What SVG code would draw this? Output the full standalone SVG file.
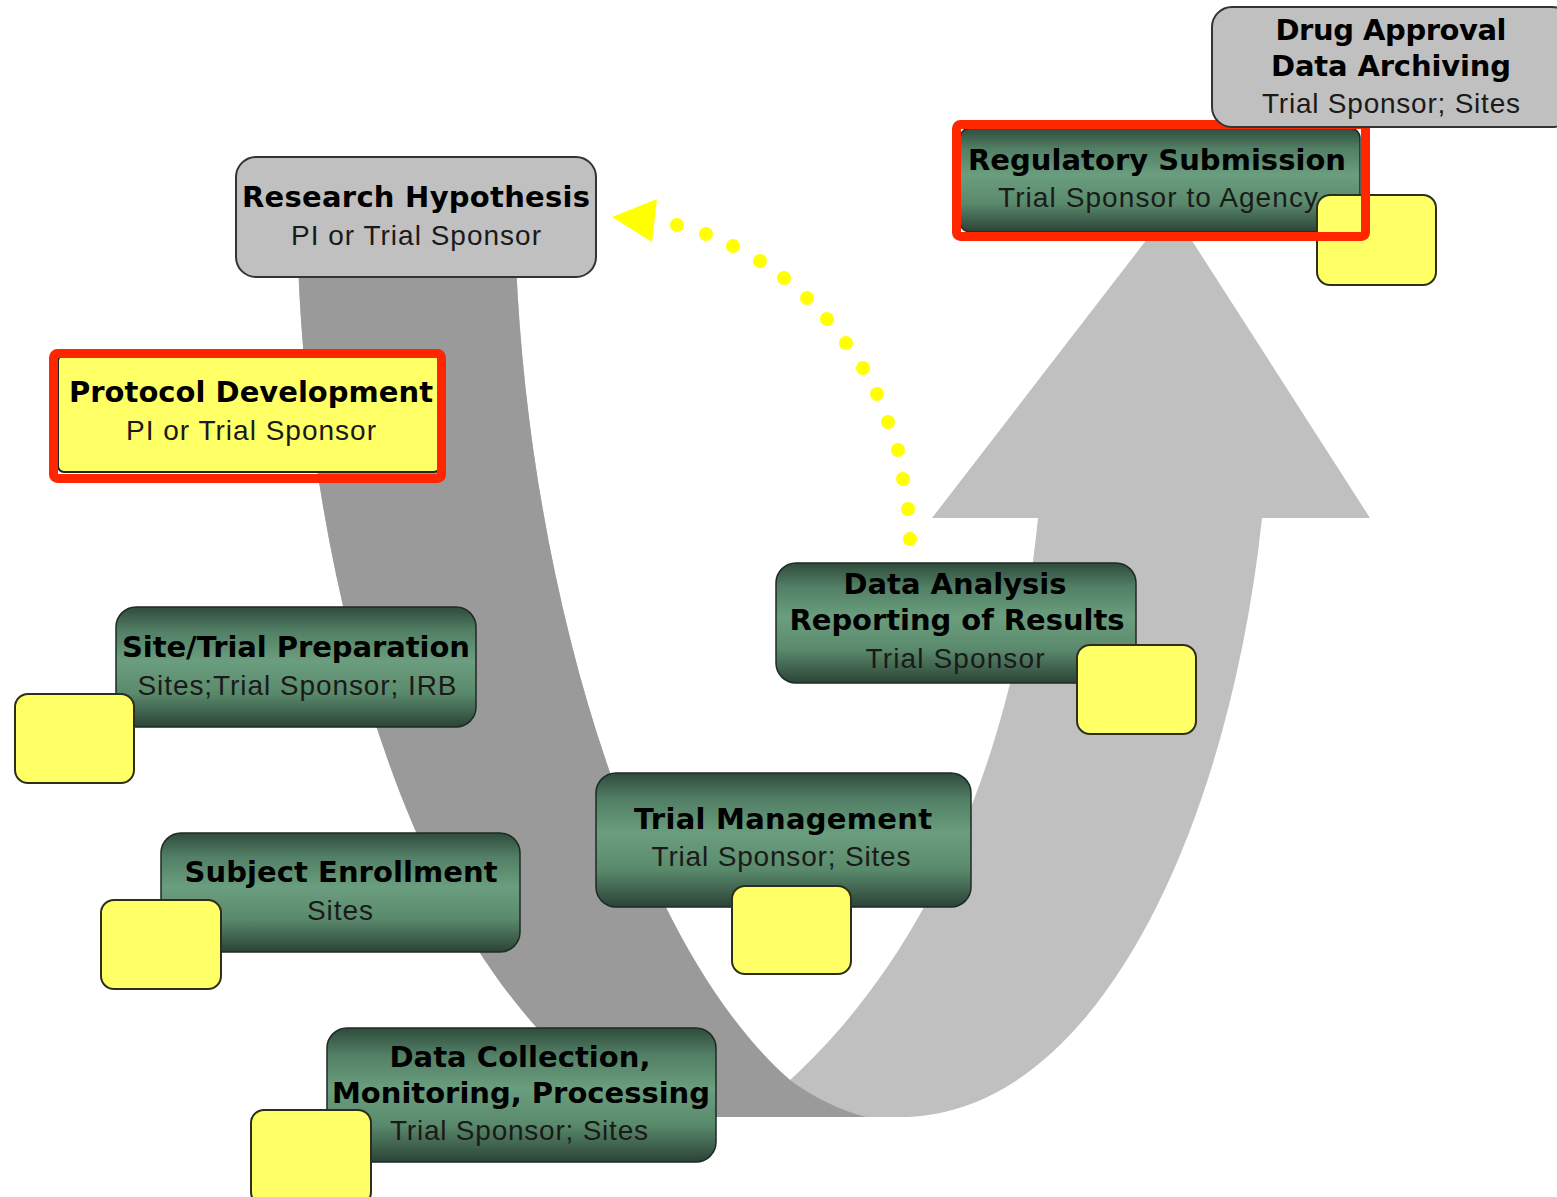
<svg xmlns="http://www.w3.org/2000/svg" width="1557" height="1197" viewBox="0 0 1557 1197">
<defs>
  <linearGradient id="greenFill" x1="0" y1="0" x2="0" y2="1">
    <stop offset="0" stop-color="#2f4b3c"/>
    <stop offset="0.2" stop-color="#527f65"/>
    <stop offset="0.45" stop-color="#6a9e7e"/>
    <stop offset="0.72" stop-color="#5a8a6c"/>
    <stop offset="1" stop-color="#2b4336"/>
  </linearGradient>
</defs>
<style>
  .title{font-family:"DejaVu Sans",Verdana,sans-serif;font-weight:bold;font-size:29px;fill:#000;text-anchor:middle}
  .sub{font-family:"Liberation Sans",Arial,sans-serif;font-size:28px;fill:#1a1a1a;text-anchor:middle}
  .green{fill:url(#greenFill);stroke:#1e2a22;stroke-width:1.5}
  .gray{fill:#c0c0c0;stroke:#333;stroke-width:2}
  .note{fill:#ffff66;stroke:#2e2e1a;stroke-width:2}
  .hl{fill:none;stroke:#ff2600;stroke-width:9}
  .dot{fill:#ffff00}
</style>
<rect width="1557" height="1197" fill="#fff"/>

<!-- U-turn process arrow: light band over the whole shape, darker descending arm -->
<g id="process-arrow">
  <path fill="#c0c0c0" d="M298,262 L516,262 C530,600 640,950 790,1080 C900,980 1010,800 1038,518 L932,518 L1171,208 L1370,518 L1262,518 C1230,820 1100,1117 900,1117 L650,1117 C420,1000 310,600 298,262 Z"/>
  <path fill="#9a9a9a" d="M298,262 L516,262 C530,600 640,950 790,1080 Q825,1106 866,1117 L650,1117 C420,1000 310,600 298,262 Z"/>
</g>

<!-- dotted feedback arrow back to the hypothesis -->
<g id="connectors">
  <g class="dot">
    <circle cx="677" cy="225" r="7"/>
    <circle cx="706" cy="234" r="7"/>
    <circle cx="733" cy="246" r="7"/>
    <circle cx="760" cy="261" r="7"/>
    <circle cx="784" cy="278" r="7"/>
    <circle cx="807" cy="298" r="7"/>
    <circle cx="827" cy="319" r="7"/>
    <circle cx="846" cy="343" r="7"/>
    <circle cx="863" cy="368" r="7"/>
    <circle cx="877" cy="394" r="7"/>
    <circle cx="888" cy="422" r="7"/>
    <circle cx="898" cy="450" r="7"/>
    <circle cx="903" cy="479" r="7"/>
    <circle cx="908" cy="509" r="7"/>
    <circle cx="910" cy="539" r="7"/>
    <polygon points="612,217 657,199 652,242"/>
  </g>
</g>

<g id="research-hypothesis">
  <rect class="gray" x="236" y="157" width="360" height="120" rx="20"/>
  <text class="title" x="416" y="207" textLength="348">Research Hypothesis</text>
  <text class="sub" x="416" y="245" textLength="250">PI or Trial Sponsor</text>
</g>

<g id="protocol-development">
  <rect x="58" y="355" width="382" height="117" rx="6" fill="#ffff66" stroke="#222" stroke-width="2"/>
  <text class="title" x="251" y="402" textLength="364">Protocol Development</text>
  <text class="sub" x="251" y="440" textLength="250">PI or Trial Sponsor</text>
  <rect class="hl" x="53.5" y="353.5" width="388" height="125" rx="4"/>
</g>

<g id="site-trial-preparation">
  <rect class="green" x="116" y="607" width="360" height="120" rx="20"/>
  <text class="title" x="296" y="657" textLength="348">Site/Trial Preparation</text>
  <text class="sub" x="297" y="695" textLength="319">Sites;Trial Sponsor; IRB</text>
  <rect class="note" x="15" y="694" width="119" height="89" rx="13"/>
</g>

<g id="subject-enrollment">
  <rect class="green" x="161" y="833" width="359" height="119" rx="20"/>
  <text class="title" x="341" y="882" textLength="313">Subject Enrollment</text>
  <text class="sub" x="340" y="920" textLength="66">Sites</text>
  <rect class="note" x="101" y="900" width="120" height="89" rx="13"/>
</g>

<g id="data-collection">
  <rect class="green" x="327" y="1028" width="389" height="134" rx="20"/>
  <text class="title" x="520" y="1067" textLength="261">Data Collection,</text>
  <text class="title" x="521" y="1103" textLength="378">Monitoring, Processing</text>
  <text class="sub" x="519" y="1140" textLength="258">Trial Sponsor; Sites</text>
  <rect class="note" x="251" y="1110" width="120" height="95" rx="13"/>
</g>

<g id="trial-management">
  <rect class="green" x="596" y="773" width="375" height="134" rx="20"/>
  <text class="title" x="783" y="829" textLength="298">Trial Management</text>
  <text class="sub" x="781" y="866" textLength="259">Trial Sponsor; Sites</text>
  <rect class="note" x="732" y="886" width="119" height="88" rx="13"/>
</g>

<g id="data-analysis">
  <rect class="green" x="776" y="563" width="360" height="120" rx="20"/>
  <text class="title" x="955" y="594" textLength="223">Data Analysis</text>
  <text class="title" x="957" y="630" textLength="335">Reporting of Results</text>
  <text class="sub" x="955" y="668" textLength="179">Trial Sponsor</text>
  <rect class="note" x="1077" y="645" width="119" height="89" rx="13"/>
</g>

<g id="regulatory-submission">
  <rect class="green" x="960" y="128" width="400" height="104" rx="10"/>
  <text class="title" x="1157" y="170" textLength="378">Regulatory Submission</text>
  <text class="sub" x="1158" y="207" textLength="320">Trial Sponsor to Agency</text>
  <rect class="note" x="1317" y="195" width="119" height="90" rx="13"/>
  <rect class="hl" x="956.5" y="124.5" width="409" height="112" rx="4"/>
</g>

<g id="drug-approval">
  <rect class="gray" x="1212" y="7" width="360" height="120" rx="20"/>
  <text class="title" x="1391" y="40" textLength="231">Drug Approval</text>
  <text class="title" x="1391" y="76" textLength="240">Data Archiving</text>
  <text class="sub" x="1391" y="113" textLength="258">Trial Sponsor; Sites</text>
</g>
</svg>
